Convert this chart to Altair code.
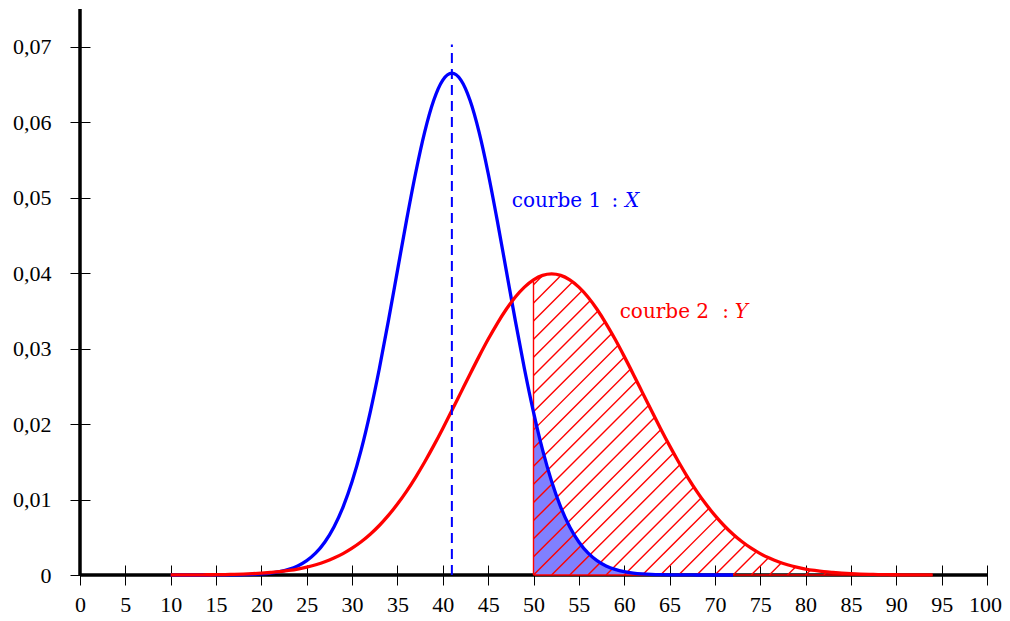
import altair as alt
import pandas as pd

# ---------------- data ----------------
x_ticks = list(range(0, 101, 5))
y_ticks = [0, 0.01, 0.02, 0.03, 0.04, 0.05, 0.06, 0.07]

# courbe 1 (X) : x = 10 .. 72
blue_x = list(range(10, 73))
blue_y = [0.0, 0.0, 0.0, 0.0, 0.0, 0.00001, 0.00001, 0.00002, 0.00004, 0.00008,
          0.00015, 0.00026, 0.00044, 0.00074, 0.00120, 0.00190, 0.00292, 0.00437,
          0.00636, 0.00900, 0.01239, 0.01658, 0.02159, 0.02733, 0.03367, 0.04033,
          0.04699, 0.05324, 0.05868, 0.06290, 0.06557, 0.06649, 0.06557, 0.06290,
          0.05868, 0.05324, 0.04699, 0.04033, 0.03367, 0.02733, 0.02159, 0.01658,
          0.01239, 0.00900, 0.00636, 0.00437, 0.00292, 0.00190, 0.00120, 0.00074,
          0.00044, 0.00026, 0.00015, 0.00008, 0.00004, 0.00002, 0.00001, 0.00001,
          0.0, 0.0, 0.0, 0.0, 0.0]

# courbe 2 (Y) : x = 10 .. 94
red_x = list(range(10, 95))
red_y = [0.00001, 0.00001, 0.00001, 0.00002, 0.00003, 0.00004, 0.00006, 0.00009,
         0.00012, 0.00017, 0.00024, 0.00033, 0.00044, 0.00060, 0.00079, 0.00104,
         0.00136, 0.00175, 0.00224, 0.00283, 0.00355, 0.00440, 0.00540, 0.00656,
         0.00790, 0.00940, 0.01109, 0.01295, 0.01497, 0.01714, 0.01942, 0.02179,
         0.02420, 0.02661, 0.02897, 0.03123, 0.03332, 0.03521, 0.03683, 0.03814,
         0.03910, 0.03970, 0.03989, 0.03970, 0.03910, 0.03814, 0.03683, 0.03521,
         0.03332, 0.03123, 0.02897, 0.02661, 0.02420, 0.02179, 0.01942, 0.01714,
         0.01497, 0.01295, 0.01109, 0.00940, 0.00790, 0.00656, 0.00540, 0.00440,
         0.00355, 0.00283, 0.00224, 0.00175, 0.00136, 0.00104, 0.00079, 0.00060,
         0.00044, 0.00033, 0.00024, 0.00017, 0.00012, 0.00009, 0.00006, 0.00004,
         0.00003, 0.00002, 0.00001, 0.00001, 0.00001]

mean_x = 41
mean_top = 0.0703
threshold = 50
hatch_offsets = list(range(18, 92, 2))

# ---------------- layout ----------------
W, H = 907, 566
X_DOM = [0, 100]
Y_DOM = [0, 0.075]
slope = (W / (X_DOM[1] - X_DOM[0])) / (H / (Y_DOM[1] - Y_DOM[0]))  # 45 deg in pixels

TICK_FONT = "Liberation Serif"
TEXT_FONT = "DejaVu Serif"

x_scale = alt.Scale(domain=X_DOM, nice=False, zero=False)
y_scale = alt.Scale(domain=Y_DOM, nice=False, zero=False)

x_axis = alt.Axis(values=x_ticks, offset=-10, tickSize=20, tickColor="black", tickWidth=1,
                  domain=False, grid=False, labelFont=TICK_FONT, labelFontSize=22,
                  labelColor="black", labelPadding=9, labelFlush=False,
                  labelOverlap=False, labelAngle=0, format="d",
                  labelOffset={"condition": {"test": "datum.value == 100", "value": -2},
                               "value": 0})
y_axis = alt.Axis(values=y_ticks, offset=-10, tickSize=20, tickColor="black", tickWidth=1,
                  domain=False, grid=False, labelFont=TICK_FONT, labelFontSize=22,
                  labelColor="black", labelPadding=19, labelFlush=False,
                  labelOverlap=False,
                  labelExpr="datum.value == 0 ? '0' : replace(format(datum.value, '.2f'), '.', ',')")


def X(field):
    return alt.X(field, type="quantitative", scale=x_scale, axis=x_axis, title=None)


def Y(field):
    return alt.Y(field, type="quantitative", scale=y_scale, axis=y_axis, title=None)


blue_df = pd.DataFrame({"x": blue_x, "y": blue_y})
red_df = pd.DataFrame({"x": red_x, "y": red_y})
blue_tail = blue_df[blue_df.x >= threshold]
red_at_threshold = red_y[red_x.index(threshold)]

# hatch segments (45 degree lines, stopped at the red curve)
red_right = [(x, y) for x, y in zip(red_x, red_y) if x >= threshold]
segs = []
for c in hatch_offsets:
    xs = max(threshold, c)
    ys = slope * (xs - c)
    prev = None
    end = None
    for x, y in red_right:
        d = slope * (x - c) - y
        if d >= 0:
            if prev is None:
                end = (x, slope * (x - c))
            else:
                px, pdv = prev
                t = pdv / (pdv - d)
                xe = px + t * (x - px)
                end = (xe, slope * (xe - c))
            break
        prev = (x, d)
    if end is None or end[0] <= xs:
        continue
    segs.append({"x": xs, "y": ys, "x2": end[0], "y2": end[1]})
hatch_df = pd.DataFrame(segs)

axis_df = pd.DataFrame({"x": [X_DOM[0]], "x2": [X_DOM[1]], "y": [Y_DOM[0]], "y2": [Y_DOM[1]]})

# ---------------- layers ----------------
x_axis_line = alt.Chart(axis_df).mark_rule(color="black", strokeWidth=3.5).encode(
    x=X("x"), x2="x2", y=Y("y"))
y_axis_line = alt.Chart(axis_df).mark_rule(color="black", strokeWidth=3.5).encode(
    x=X("x"), y=Y("y"), y2="y2")

blue_fill = alt.Chart(blue_tail).mark_area(color="#8080ff", interpolate="monotone").encode(
    x=X("x"), y=Y("y"))

hatch = alt.Chart(hatch_df).mark_rule(color="#ff0000", strokeWidth=1.4, clip=True).encode(
    x=X("x"), y=Y("y"), x2="x2", y2="y2")

edge_df = pd.DataFrame({"x": [threshold], "y": [0], "y2": [red_at_threshold],
                        "xb": [threshold], "xb2": [red_x[-1]]})
left_edge = alt.Chart(edge_df).mark_rule(color="#ff0000", strokeWidth=1.4).encode(
    x=X("x"), y=Y("y"), y2="y2")
bottom_edge = alt.Chart(edge_df).mark_rule(color="#ff0000", strokeWidth=1.4).encode(
    x=X("xb"), x2="xb2", y=Y("y"))

blue_line = alt.Chart(blue_df).mark_line(color="#0000ff", strokeWidth=3.3,
                                         interpolate="monotone").encode(x=X("x"), y=Y("y"))
red_line = alt.Chart(red_df).mark_line(color="#ff0000", strokeWidth=3.3,
                                       interpolate="monotone").encode(x=X("x"), y=Y("y"))

mean_df = pd.DataFrame({"x": [mean_x], "y": [0], "y2": [mean_top]})
mean_rule = alt.Chart(mean_df).mark_rule(color="#0000ff", strokeWidth=2,
                                         strokeDash=[10, 6]).encode(
    x=X("x"), y=Y("y"), y2="y2")


def label(text, x, y, color, italic=False):
    return alt.Chart(pd.DataFrame({"x": [x], "y": [y], "t": [text]})).mark_text(
        font=TEXT_FONT, fontSize=20, color=color, align="left", baseline="alphabetic",
        fontStyle="italic" if italic else "normal").encode(
        x=X("x"), y=Y("y"), text="t:N")


texts = (label("courbe 1", 47.6, 0.0488, "#0000ff")
         + label(":", 58.6, 0.0488, "#0000ff")
         + label("X", 60.1, 0.0488, "#0000ff", italic=True)
         + label("courbe 2", 59.5, 0.0340, "#ff0000")
         + label(":", 70.8, 0.0340, "#ff0000")
         + label("Y", 72.2, 0.0340, "#ff0000", italic=True))

chart = alt.layer(
    x_axis_line, y_axis_line, blue_fill, hatch, left_edge, bottom_edge,
    blue_line, red_line, mean_rule, texts
).properties(
    width=W, height=H,
    padding={"left": 72, "top": 1, "right": 15, "bottom": 38},
    autosize=alt.AutoSizeParams(type="none"),
).configure_view(stroke=None)

chart.save("out.html", embed_options={"renderer": "svg", "actions": False})
